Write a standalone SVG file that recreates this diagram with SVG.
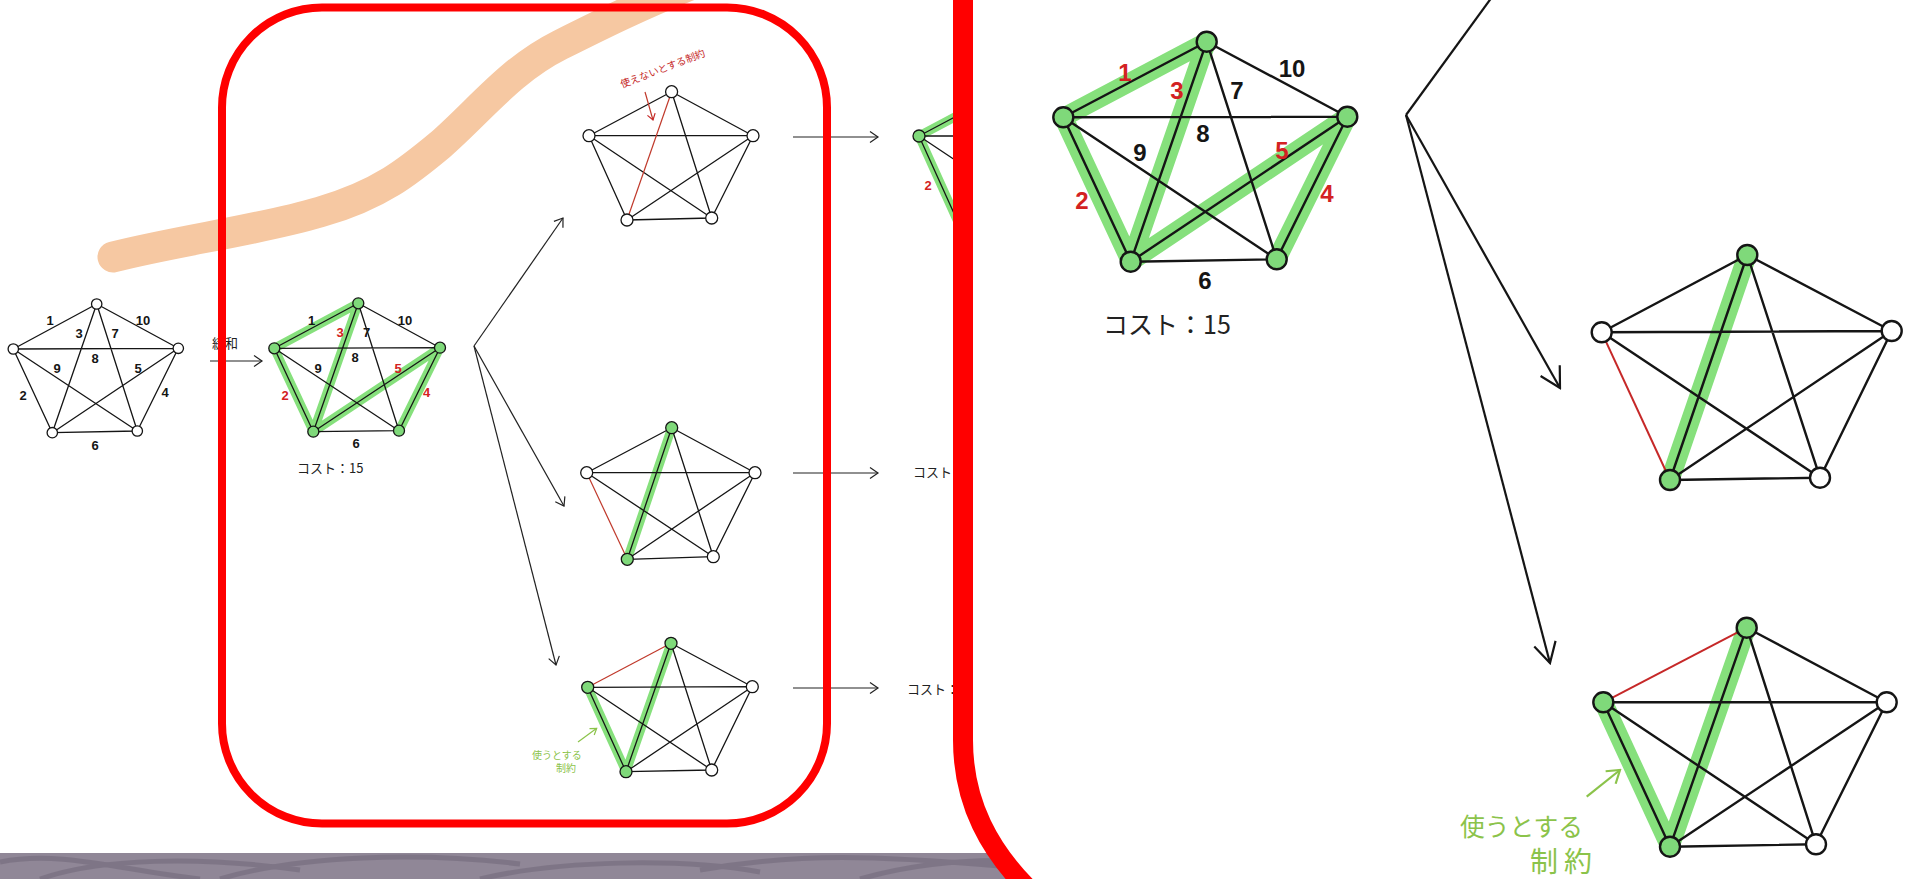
<svg xmlns="http://www.w3.org/2000/svg" width="1914" height="879" viewBox="0 0 1914 879">
<style>
.e{stroke:#151515;stroke-width:1.3;fill:none}
.E{stroke:#151515;stroke-width:2.4;fill:none}
.rd{stroke:#c0392b;stroke-width:1.2;fill:none}
.RD{stroke:#c62828;stroke-width:2;fill:none}
.hl{stroke:#86e07c;stroke-width:9;stroke-linecap:round;stroke-linejoin:round;fill:none}
.HL{stroke:#86e07c;stroke-width:19;stroke-linecap:round;stroke-linejoin:round;fill:none}
.n{fill:#fff;stroke:#151515;stroke-width:1.3}
.N{fill:#fff;stroke:#151515;stroke-width:2.4}
.g{fill:#7fd97a}
.lb{font-family:"Liberation Sans",sans-serif;font-weight:bold;font-size:13px;text-anchor:middle;dominant-baseline:central;fill:#151515}
.LB{font-family:"Liberation Sans",sans-serif;font-weight:bold;font-size:24px;text-anchor:middle;dominant-baseline:central;fill:#151515}
.red{fill:#d32222}
.jp{font-family:"Noto Sans CJK JP",sans-serif;fill:#222}
.ar{stroke:#222;stroke-width:1.2;fill:none}
.AR{stroke:#151515;stroke-width:2.2;fill:none}
</style>
<defs>
<marker id="ch" viewBox="-10 -7 12 14" refX="0" refY="0" markerWidth="12" markerHeight="14" markerUnits="userSpaceOnUse" orient="auto">
<path d="M -8 -5.5 L 0 0 L -8 5.5" fill="none" stroke="#222" stroke-width="1.2"/>
</marker>
<marker id="CH" viewBox="-24 -14 26 28" refX="0" refY="0" markerWidth="26" markerHeight="28" markerUnits="userSpaceOnUse" orient="auto">
<path d="M -20 -11 L 0 0 L -20 11" fill="none" stroke="#151515" stroke-width="2.2"/>
</marker>
<marker id="chr" viewBox="-8 -5 10 10" refX="0" refY="0" markerWidth="10" markerHeight="10" markerUnits="userSpaceOnUse" orient="auto">
<path d="M -6 -4 L 0 0 L -6 4" fill="none" stroke="#c62828" stroke-width="1.2"/>
</marker>
<marker id="chg" viewBox="-8 -5 10 10" refX="0" refY="0" markerWidth="10" markerHeight="10" markerUnits="userSpaceOnUse" orient="auto">
<path d="M -6 -4 L 0 0 L -6 4" fill="none" stroke="#8bc34a" stroke-width="1.2"/>
</marker>
<marker id="CHG" viewBox="-16 -10 18 20" refX="0" refY="0" markerWidth="18" markerHeight="20" markerUnits="userSpaceOnUse" orient="auto">
<path d="M -12 -8 L 0 0 L -12 8" fill="none" stroke="#8bc34a" stroke-width="2.2"/>
</marker>
</defs>
<rect width="1914" height="879" fill="#fff"/>

<!-- peach stroke -->
<path d="M 113 257 C 180 240, 260 230, 320 212 C 380 195, 410 170, 440 145 C 480 110, 510 70, 560 45 C 600 25, 640 5, 690 -15" fill="none" stroke="#f6c8a2" stroke-width="31" stroke-linecap="round"/>

<!-- gray strip -->
<g id="strip">
<rect x="0" y="853" width="1100" height="26" fill="#908797"/>
<g fill="none" stroke="#6e6577" stroke-width="5" opacity="0.5">
<path d="M 0 862 C 60 850, 120 870, 200 879"/>
<path d="M 40 879 C 100 858, 200 856, 300 870"/>
<path d="M 220 879 C 300 855, 420 852, 520 864"/>
<path d="M 480 879 C 560 860, 680 858, 760 872"/>
<path d="M 700 870 C 800 852, 880 856, 1000 866"/>
<path d="M 860 879 C 920 862, 980 858, 1040 862"/>
</g>
</g>

<!-- G0 -->
<g id="g0">
<g class="e">
<path d="M96.7 304 L13.3 349 M96.7 304 L178.3 348.3 M96.7 304 L52.3 432.7 M96.7 304 L137.3 431 M13.3 349 L178.3 348.3 M13.3 349 L52.3 432.7 M13.3 349 L137.3 431 M178.3 348.3 L52.3 432.7 M178.3 348.3 L137.3 431 M52.3 432.7 L137.3 431"/>
</g>
<circle class="n" cx="96.7" cy="304" r="5.2"/><circle class="n" cx="13.3" cy="349" r="5.2"/><circle class="n" cx="178.3" cy="348.3" r="5.2"/><circle class="n" cx="52.3" cy="432.7" r="5.2"/><circle class="n" cx="137.3" cy="431" r="5.2"/>
<text class="lb" x="50" y="320">1</text><text class="lb" x="143" y="320">10</text><text class="lb" x="79" y="333">3</text><text class="lb" x="115" y="333">7</text><text class="lb" x="95" y="358">8</text><text class="lb" x="57" y="368">9</text><text class="lb" x="138" y="368">5</text><text class="lb" x="23" y="395">2</text><text class="lb" x="165" y="392">4</text><text class="lb" x="95" y="445">6</text>
</g>

<!-- G1 small -->
<g id="g1">
<path class="hl" d="M313.3 431.7 L274.3 348.3 L358.3 303.3 L313.3 431.7 L440 347.7 L399 430.7"/>
<path class="e" d="M358.3 303.3 L274.3 348.3 M358.3 303.3 L440 347.7 M358.3 303.3 L313.3 431.7 M358.3 303.3 L399 430.7 M274.3 348.3 L440 347.7 M274.3 348.3 L313.3 431.7 M274.3 348.3 L399 430.7 M440 347.7 L313.3 431.7 M440 347.7 L399 430.7 M313.3 431.7 L399 430.7"/>
<circle class="n g" cx="358.3" cy="303.3" r="5.5"/><circle class="n g" cx="274.3" cy="348.3" r="5.5"/><circle class="n g" cx="440" cy="347.7" r="5.5"/><circle class="n g" cx="313.3" cy="431.7" r="5.5"/><circle class="n g" cx="399" cy="430.7" r="5.5"/>
<text class="lb" x="311.7" y="320">1</text><text class="lb" x="405" y="320">10</text><text class="lb red" x="340" y="332">3</text><text class="lb" x="366.7" y="332">7</text><text class="lb" x="355" y="357">8</text><text class="lb" x="318" y="368">9</text><text class="lb red" x="398" y="368">5</text><text class="lb red" x="285" y="395">2</text><text class="lb red" x="426.7" y="392">4</text><text class="lb" x="356" y="443">6</text>
<text class="jp" x="297" y="473" font-size="13">コスト：15</text>
</g>

<!-- relax label -->
<g id="relax">
<text class="jp" x="212" y="348" font-size="13">緩和</text>
</g>

<!-- P1 -->
<g id="p1">
<path class="e" d="M671.6 91.7 L589 135.7 M671.6 91.7 L753 135.7 M671.6 91.7 L711.7 218 M589 135.7 L753 135.7 M589 135.7 L627 220 M589 135.7 L711.7 218 M753 135.7 L627 220 M753 135.7 L711.7 218 M627 220 L711.7 218"/>
<path class="rd" d="M671.6 91.7 L627 220"/>
<circle class="n" cx="671.6" cy="91.7" r="6"/><circle class="n" cx="589" cy="135.7" r="6"/><circle class="n" cx="753" cy="135.7" r="6"/><circle class="n" cx="627" cy="220" r="6"/><circle class="n" cx="711.7" cy="218" r="6"/>
<text x="664" y="72" font-family="Noto Sans CJK JP,sans-serif" font-size="10" fill="#c62828" text-anchor="middle" transform="rotate(-21 664 72)">使えないとする制約</text>
<path d="M 645 92 C 648 102, 650 110, 653 120" class="rd" marker-end="url(#chr)"/>
</g>

<!-- P2 small -->
<g id="p2">
<path class="hl" d="M671.7 427.7 L627.3 559.3"/>
<path class="e" d="M671.7 427.7 L586.7 472.7 M671.7 427.7 L755 472.7 M671.7 427.7 L627.3 559.3 M671.7 427.7 L713.3 556.7 M586.7 472.7 L755 472.7 M586.7 472.7 L713.3 556.7 M755 472.7 L627.3 559.3 M755 472.7 L713.3 556.7 M627.3 559.3 L713.3 556.7"/>
<path class="rd" d="M586.7 472.7 L627.3 559.3"/>
<circle class="n g" cx="671.7" cy="427.7" r="6"/><circle class="n" cx="586.7" cy="472.7" r="6"/><circle class="n" cx="755" cy="472.7" r="6"/><circle class="n g" cx="627.3" cy="559.3" r="6"/><circle class="n" cx="713.3" cy="556.7" r="6"/>
</g>

<!-- P3 small -->
<g id="p3">
<path class="hl" d="M587.7 687.3 L626 771.7 L671 643.3"/>
<path class="e" d="M671 643.3 L752.3 686.7 M671 643.3 L626 771.7 M671 643.3 L711.7 770 M587.7 687.3 L752.3 686.7 M587.7 687.3 L626 771.7 M587.7 687.3 L711.7 770 M752.3 686.7 L626 771.7 M752.3 686.7 L711.7 770 M626 771.7 L711.7 770"/>
<path class="rd" d="M671 643.3 L587.7 687.3"/>
<circle class="n g" cx="671" cy="643.3" r="6"/><circle class="n g" cx="587.7" cy="687.3" r="6"/><circle class="n" cx="752.3" cy="686.7" r="6"/><circle class="n g" cx="626" cy="771.7" r="6"/><circle class="n" cx="711.7" cy="770" r="6"/>
<text x="532" y="759" font-family="Noto Sans CJK JP,sans-serif" font-size="10" fill="#8bc34a">使うとする</text>
<text x="556" y="772" font-family="Noto Sans CJK JP,sans-serif" font-size="10" fill="#8bc34a">制約</text>
<path d="M578 742 L596.7 728.3" fill="none" stroke="#8bc34a" stroke-width="1.2" marker-end="url(#chg)"/>
</g>

<!-- P4 partial -->
<g id="p4">
<path class="hl" d="M1002 92 L919 136 L957 220"/>
<path class="e" d="M1002 92 L919 136 M919 136 L1083 136 M919 136 L957 220 M919 136 L1042 218"/>
<circle class="n g" cx="919" cy="136" r="6"/>
<text class="lb red" x="928" y="185">2</text>
</g>

<!-- connectors (left) -->
<g id="connectors">
<path class="ar" d="M210 361 L262 361" marker-end="url(#ch)"/>
<path class="ar" d="M474 346 L563 218" marker-end="url(#ch)"/>
<path class="ar" d="M474 346 L564 506" marker-end="url(#ch)"/>
<path class="ar" d="M474 346 L556 665" marker-end="url(#ch)"/>
<path class="ar" d="M793 137 L878 137" marker-end="url(#ch)"/>
<path class="ar" d="M793 473 L878 473" marker-end="url(#ch)"/>
<path class="ar" d="M793 688 L878 688" marker-end="url(#ch)"/>
</g>
<g id="costs">
<text class="jp" x="913" y="477" font-size="13">コスト：</text>
<text class="jp" x="907" y="694" font-size="13">コスト：</text>
</g>

<!-- red box -->
<rect id="redbox" x="222" y="7.5" width="605" height="816" rx="100" ry="100" fill="none" stroke="#ff0000" stroke-width="8"/>

<!-- magnified panel -->
<path id="panel" d="M 963 -20 L 963 740 C 963 800, 987 852, 1040 900 L 1950 900 L 1950 -20 Z" fill="#fff" stroke="#ff0000" stroke-width="20"/>

<g id="mg1">
<path class="HL" d="M1130.7 261.7 L1063.3 117.3 L1206.7 41.7 L1130.7 261.7 L1347.3 116.7 L1276.7 259.3"/>
<path class="E" d="M1206.7 41.7 L1063.3 117.3 M1206.7 41.7 L1347.3 116.7 M1206.7 41.7 L1130.7 261.7 M1206.7 41.7 L1276.7 259.3 M1063.3 117.3 L1347.3 116.7 M1063.3 117.3 L1130.7 261.7 M1063.3 117.3 L1276.7 259.3 M1347.3 116.7 L1130.7 261.7 M1347.3 116.7 L1276.7 259.3 M1130.7 261.7 L1276.7 259.3"/>
<circle class="N g" cx="1206.7" cy="41.7" r="10"/><circle class="N g" cx="1063.3" cy="117.3" r="10"/><circle class="N g" cx="1347.3" cy="116.7" r="10"/><circle class="N g" cx="1130.7" cy="261.7" r="10"/><circle class="N g" cx="1276.7" cy="259.3" r="10"/>
<text class="LB red" x="1125" y="72">1</text><text class="LB red" x="1177" y="90">3</text><text class="LB" x="1237" y="90">7</text><text class="LB" x="1292" y="68">10</text><text class="LB" x="1203" y="133">8</text><text class="LB" x="1140" y="152">9</text><text class="LB red" x="1282" y="150">5</text><text class="LB red" x="1082" y="200">2</text><text class="LB red" x="1327" y="193">4</text><text class="LB" x="1205" y="280">6</text>
<text class="jp" x="1103" y="334" font-size="25">コスト：15</text>
</g>

<g id="mp2">
<path class="HL" d="M1747.3 255 L1670 480"/>
<path class="E" d="M1747.3 255 L1601.7 332.3 M1747.3 255 L1891.7 331 M1747.3 255 L1670 480 M1747.3 255 L1820 477.7 M1601.7 332.3 L1891.7 331 M1601.7 332.3 L1820 477.7 M1891.7 331 L1670 480 M1891.7 331 L1820 477.7 M1670 480 L1820 477.7"/>
<path class="RD" d="M1601.7 332.3 L1670 480"/>
<circle class="N g" cx="1747.3" cy="255" r="10"/><circle class="N" cx="1601.7" cy="332.3" r="10"/><circle class="N" cx="1891.7" cy="331" r="10"/><circle class="N g" cx="1670" cy="480" r="10"/><circle class="N" cx="1820" cy="477.7" r="10"/>
</g>

<g id="mp3">
<path class="HL" d="M1603.3 702.3 L1670 846.7 L1746.7 627.7"/>
<path class="E" d="M1746.7 627.7 L1886.7 702.3 M1746.7 627.7 L1670 846.7 M1746.7 627.7 L1816 844.3 M1603.3 702.3 L1886.7 702.3 M1603.3 702.3 L1670 846.7 M1603.3 702.3 L1816 844.3 M1886.7 702.3 L1670 846.7 M1886.7 702.3 L1816 844.3 M1670 846.7 L1816 844.3"/>
<path class="RD" d="M1746.7 627.7 L1603.3 702.3"/>
<circle class="N g" cx="1746.7" cy="627.7" r="10"/><circle class="N g" cx="1603.3" cy="702.3" r="10"/><circle class="N" cx="1886.7" cy="702.3" r="10"/><circle class="N g" cx="1670" cy="846.7" r="10"/><circle class="N" cx="1816" cy="844.3" r="10"/>
<text x="1460" y="836" font-family="Noto Sans CJK JP,sans-serif" font-size="25" fill="#8bc34a" textLength="123" lengthAdjust="spacingAndGlyphs">使うとする</text>
<text x="1530" y="872" font-family="Noto Sans CJK JP,sans-serif" font-size="28" letter-spacing="6" fill="#8bc34a">制約</text>
<path d="M1586.7 796.7 L1620 770" fill="none" stroke="#8bc34a" stroke-width="2.2" marker-end="url(#CHG)"/>
</g>

<g id="mconnectors">
<path class="AR" d="M1406 115 L1500 -14"/>
<path class="AR" d="M1406 115 L1560 388" marker-end="url(#CH)"/>
<path class="AR" d="M1406 115 L1550 663" marker-end="url(#CH)"/>
</g>
</svg>
